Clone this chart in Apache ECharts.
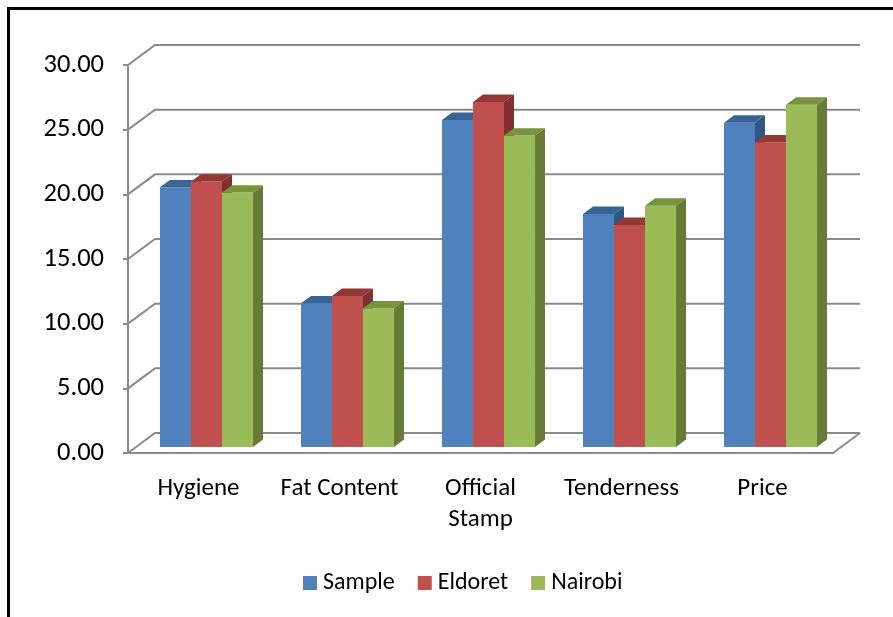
<!DOCTYPE html>
<html>
<head>
<meta charset="utf-8">
<script src="https://cdn.jsdelivr.net/npm/echarts@6/dist/echarts.min.js"></script>
<style>
  html, body { margin: 0; padding: 0; background: #fff; }
  #chart { width: 893px; height: 617px; }
</style>
</head>
<body>
<div id="chart"></div>
<script>
// Survey scores per attribute, three groups
const categories = ['Hygiene', 'Fat Content', 'Official\nStamp', 'Tenderness', 'Price'];
const seriesNames = ['Sample', 'Eldoret', 'Nairobi'];
const sampleValues = [20.08, 11.11, 25.29, 18.02, 25.08];
const eldoretValues = [20.52, 11.68, 26.68, 17.17, 23.56];
const nairobiValues = [19.67, 10.72, 24.08, 18.66, 26.47];
const yTicks = [0, 5, 10, 15, 20, 25, 30];

const FONT = "Carlito, 'Liberation Sans Narrow', 'Open Sans', sans-serif";
const GRID_COLOR = '#8a8a8a';

// Oblique projection of the chart box: back wall offset from the front plane
const WALL_DX = 27, WALL_DY = 20;
// Front face of the columns sits a little behind the front plane
const FRONT_DX = 8, FRONT_DY = 6;
// Depth of each column
const BAR_DX = 10, BAR_DY = 7.4;
const BAR_RATIO = 0.22;

// face colours: front, top, side
const palettes = [
  ['#4F81BD', '#3A6396', '#2F5583'],
  ['#C0504D', '#943835', '#7F2F2D'],
  ['#9BBB59', '#77933C', '#667C36']
];

function wallRenderer(params, api) {
  const cs = params.coordSys;
  const v = api.value(1);
  const yf = api.coord([0, v])[1];
  const children = [{
    type: 'polyline',
    shape: { points: [[cs.x, yf], [cs.x + WALL_DX, yf - WALL_DY], [cs.x + cs.width + WALL_DX, yf - WALL_DY]] },
    style: { stroke: GRID_COLOR, lineWidth: 2, fill: null }
  }];
  if (v === 0) {
    children.push({
      type: 'line',
      shape: { x1: cs.x + cs.width, y1: yf, x2: cs.x + cs.width + WALL_DX, y2: yf - WALL_DY },
      style: { stroke: GRID_COLOR, lineWidth: 2 }
    });
  }
  return { type: 'group', children: children };
}

function barRenderer(idx) {
  const pal = palettes[idx];
  return function (params, api) {
    const cat = api.value(0), val = api.value(1);
    const base = api.coord([cat, 0]);
    const top = api.coord([cat, val]);
    const band = api.size([1, 0])[0];
    const bw = band * BAR_RATIO;
    const fx = base[0] + (idx - 1.5) * bw + FRONT_DX;
    const ty = top[1] - FRONT_DY;
    const by = base[1] - FRONT_DY;
    return {
      type: 'group',
      children: [
        { type: 'rect', shape: { x: fx, y: ty, width: bw, height: by - ty }, style: { fill: pal[0] } },
        { type: 'polygon', shape: { points: [[fx, ty], [fx + bw, ty], [fx + bw + BAR_DX, ty - BAR_DY], [fx + BAR_DX, ty - BAR_DY]] }, style: { fill: pal[1] } },
        { type: 'polygon', shape: { points: [[fx + bw, ty], [fx + bw + BAR_DX, ty - BAR_DY], [fx + bw + BAR_DX, by - BAR_DY], [fx + bw, by]] }, style: { fill: pal[2] } }
      ]
    };
  };
}

const valueSets = [sampleValues, eldoretValues, nairobiValues];

const chart = echarts.init(document.getElementById('chart'), null, { renderer: 'canvas' });
chart.setOption({
  animation: false,
  backgroundColor: '#fff',
  textStyle: { fontFamily: FONT },
  grid: { left: 128, top: 65, width: 705, height: 388 },
  xAxis: {
    type: 'category',
    data: categories,
    axisLine: { lineStyle: { color: GRID_COLOR, width: 2 } },
    axisTick: { length: 6, interval: 0, lineStyle: { color: GRID_COLOR, width: 2 } },
    axisLabel: { interval: 0, color: '#000', fontSize: 25, lineHeight: 31, margin: 20, fontFamily: FONT },
    splitLine: { show: false }
  },
  yAxis: {
    type: 'value',
    min: 0, max: 30, interval: 5,
    axisLine: { show: true, lineStyle: { color: GRID_COLOR, width: 2 } },
    axisTick: { show: true, length: 5, lineStyle: { color: GRID_COLOR, width: 2 } },
    axisLabel: { color: '#000', fontSize: 26.5, margin: 24, fontFamily: FONT, formatter: v => v.toFixed(2) },
    splitLine: { show: false }
  },
  legend: {
    data: seriesNames,
    left: 298,
    top: 566,
    icon: 'rect',
    itemWidth: 14,
    itemHeight: 14,
    itemGap: 23,
    textStyle: { color: '#000', fontSize: 24, fontFamily: FONT, padding: [0, 0, 0, 1] }
  },
  graphic: [
    { type: 'line', shape: { x1: 7, y1: 8.5, x2: 893, y2: 8.5 }, style: { stroke: '#000', lineWidth: 3 } },
    { type: 'line', shape: { x1: 8.5, y1: 7, x2: 8.5, y2: 617 }, style: { stroke: '#000', lineWidth: 3 } }
  ],
  series: [
    {
      type: 'custom',
      name: 'walls',
      z: 1,
      silent: true,
      renderItem: wallRenderer,
      data: yTicks.map(v => [0, v])
    }
  ].concat(seriesNames.map((name, i) => ({
    type: 'custom',
    name: name,
    z: 2 + i,
    itemStyle: { color: palettes[i][0] },
    renderItem: barRenderer(i),
    data: valueSets[i].map((v, c) => [c, v])
  })))
});
</script>
</body>
</html>
